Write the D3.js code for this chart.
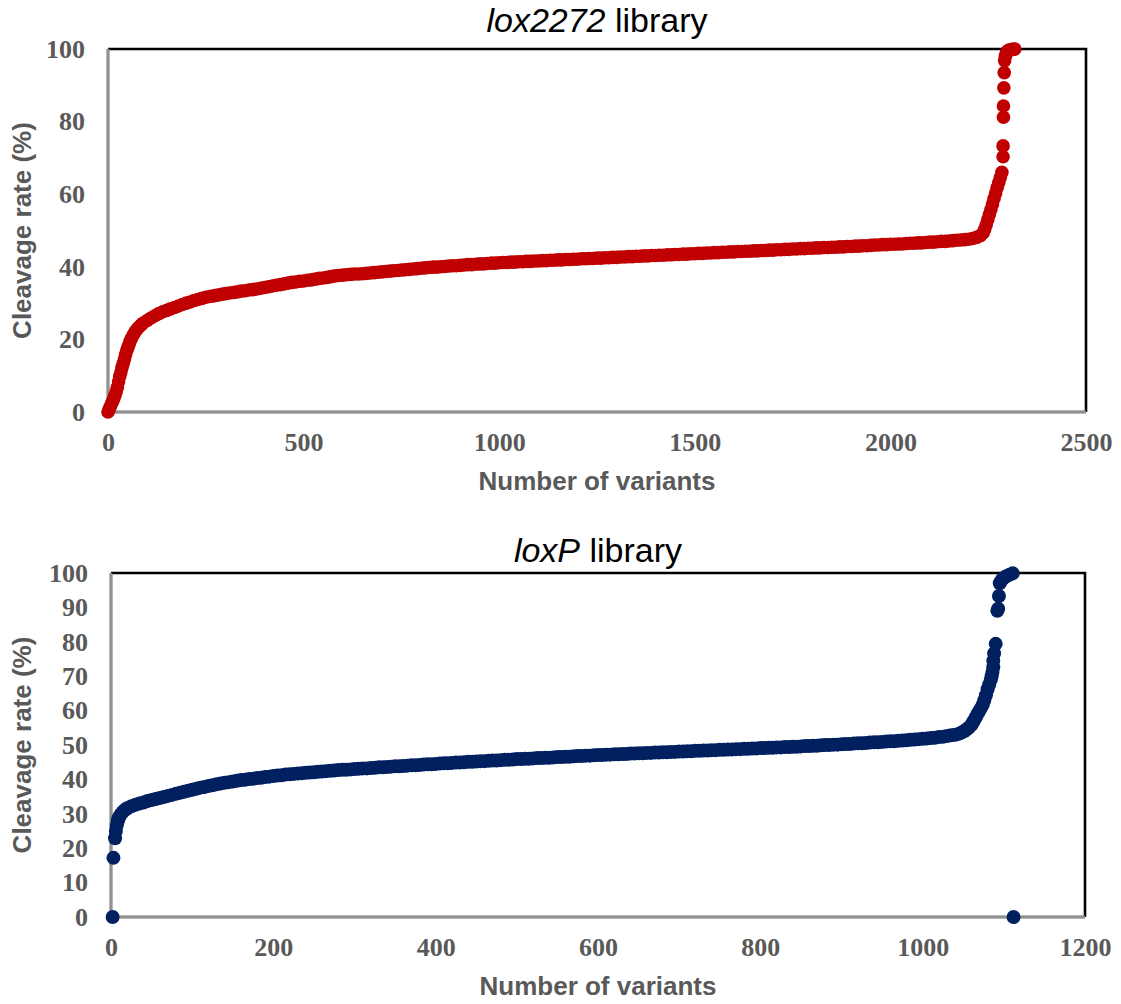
<!DOCTYPE html>
<html>
<head>
<meta charset="utf-8">
<script src="https://cdn.jsdelivr.net/npm/d3@7"></script>
<style>
  body { margin: 0; background: #fff; }
</style>
</head>
<body>
<svg class="chart"></svg>
<script>
const width = 1121,
  height = 1004;

// [variant rank, cleavage rate %]
const lox2272Points = [
  [0,0],[3,0.8],[6,1.5],[9,2.3],[12,2.9],[15,3.8],[18,4.6],[21,5.6],[24,6.8],[27,8.3],
  [30,9.8],[33,11.0],[36,12.3],[39,13.4],[42,14.6],[45,15.8],[48,16.9],[51,17.8],[54,18.7],[57,19.6],
  [60,20.3],[65,21.3],[70,22.2],[75,22.9],[80,23.5],[85,24.0],[90,24.5],
  [100,25.2],[110,25.9],[120,26.5],[130,27.1],[140,27.6],[150,28.0],[160,28.4],[170,28.8],[180,29.2],[190,29.6],
  [200,30.0],[210,30.3],[220,30.7],[230,31.0],[240,31.3],[250,31.6],[260,31.8],[270,32.0],[280,32.2],[290,32.4],
  [300,32.6],[310,32.8],[320,32.9],[330,33.1],[340,33.3],[350,33.4],[360,33.6],[370,33.7],[380,33.9],[390,34.1],
  [400,34.3],[410,34.5],[420,34.7],[430,34.9],[440,35.1],[450,35.3],[460,35.5],[470,35.7],[480,35.8],[490,36.0],
  [500,36.1],[510,36.3],[520,36.4],[530,36.6],[540,36.8],[550,36.9],[560,37.1],[570,37.3],[580,37.5],[590,37.6],
  [600,37.7],[610,37.8],[620,37.9],[630,38.0],[640,38.0],[650,38.1],[660,38.2],[670,38.3],[680,38.4],[690,38.5],
  [700,38.6],[710,38.7],[720,38.8],[730,38.9],[740,39.0],[750,39.1],[760,39.2],[770,39.3],[780,39.4],[790,39.5],
  [800,39.6],[810,39.7],[820,39.8],[830,39.9],[840,39.9],[850,40.0],[860,40.1],[870,40.2],[880,40.3],[890,40.3],
  [900,40.4],[910,40.5],[920,40.6],[930,40.6],[940,40.7],[950,40.8],[960,40.8],[970,40.9],[980,41.0],[990,41.0],
  [1000,41.1],[1010,41.2],[1020,41.2],[1030,41.3],[1040,41.3],[1050,41.4],[1060,41.4],[1070,41.5],[1080,41.5],[1090,41.6],
  [1100,41.6],[1110,41.7],[1120,41.7],[1130,41.8],[1140,41.8],[1150,41.9],[1160,41.9],[1170,42.0],[1180,42.0],[1190,42.1],
  [1200,42.1],[1210,42.2],[1220,42.2],[1230,42.3],[1240,42.3],[1250,42.4],[1260,42.4],[1270,42.5],[1280,42.5],[1290,42.6],
  [1300,42.6],[1310,42.7],[1320,42.7],[1330,42.8],[1340,42.8],[1350,42.9],[1360,42.9],[1370,43.0],[1380,43.0],[1390,43.1],
  [1400,43.1],[1410,43.2],[1420,43.2],[1430,43.3],[1440,43.3],[1450,43.4],[1460,43.4],[1470,43.5],[1480,43.5],[1490,43.6],
  [1500,43.6],[1510,43.7],[1520,43.7],[1530,43.8],[1540,43.8],[1550,43.9],[1560,43.9],[1570,44.0],[1580,44.0],[1590,44.1],
  [1600,44.1],[1610,44.2],[1620,44.2],[1630,44.3],[1640,44.3],[1650,44.4],[1660,44.4],[1670,44.5],[1680,44.5],[1690,44.6],
  [1700,44.6],[1710,44.7],[1720,44.7],[1730,44.8],[1740,44.8],[1750,44.9],[1760,44.9],[1770,45.0],[1780,45.0],[1790,45.1],
  [1800,45.1],[1810,45.2],[1820,45.2],[1830,45.3],[1840,45.3],[1850,45.4],[1860,45.4],[1870,45.5],[1880,45.5],[1890,45.6],
  [1900,45.6],[1910,45.7],[1920,45.7],[1930,45.8],[1940,45.8],[1950,45.9],[1960,46.0],[1970,46.0],[1980,46.1],[1990,46.1],
  [2000,46.2],[2010,46.2],[2020,46.3],[2030,46.3],[2040,46.4],[2050,46.5],[2060,46.5],[2070,46.6],[2080,46.6],[2090,46.7],
  [2100,46.8],[2110,46.8],[2120,46.9],[2130,47.0],[2140,47.0],[2150,47.1],[2160,47.2],[2170,47.3],[2180,47.4],[2190,47.5],
  [2200,47.6],[2210,47.8],[2220,48.1],[2230,48.6],
  [2237,49.3],[2241,50.3],[2245,51.6],[2249,53.0],[2253,54.4],[2257,55.8],[2261,57.3],[2265,58.8],[2269,60.3],[2273,61.8],
  [2277,63.2],[2281,64.6],[2285,66.0],
  [2288,70.3],[2288,73.3],[2289,81.2],[2289,84.3],[2290,89.3],[2291,93.5],[2292,96.8],[2294,98.0],[2296,98.9],[2299,99.4],
  [2303,99.7],[2307,99.8],[2311,99.9],[2315,99.9],[2318,100]
];

const loxPPoints = [
  [2,0],[3,17.2],[5,22.9],[6,25.0],[7,26.5],[8,27.6],[9,28.4],[10,29.0],[12,29.8],[14,30.4],[16,30.9],[18,31.3],
  [20,31.6],[25,32.2],[30,32.6],[35,33.0],[40,33.3],[45,33.7],[50,34.0],[55,34.3],[60,34.6],[65,34.9],[70,35.2],[75,35.5],
  [80,35.8],[85,36.1],[90,36.4],[95,36.7],[100,37.0],[105,37.3],[110,37.6],[115,37.8],[120,38.1],[125,38.3],[130,38.6],
  [135,38.8],[140,39.0],[145,39.2],[150,39.4],[155,39.6],[160,39.8],[165,39.9],[170,40.1],[175,40.2],[180,40.4],[185,40.5],
  [190,40.7],[195,40.8],[200,41.0],[205,41.1],[210,41.2],[215,41.4],[220,41.5],[225,41.6],[230,41.7],[235,41.8],[240,41.9],
  [245,42.0],[250,42.1],[255,42.2],[260,42.3],[265,42.4],[270,42.5],[275,42.6],[280,42.7],[285,42.8],[290,42.8],[295,42.9],
  [300,43.0],[305,43.1],[310,43.2],[315,43.2],[320,43.3],[325,43.4],[330,43.5],[335,43.5],[340,43.6],[345,43.7],[350,43.8],
  [355,43.8],[360,43.9],[365,44.0],[370,44.1],[375,44.1],[380,44.2],[385,44.3],[390,44.4],[395,44.4],[400,44.5],[405,44.6],
  [410,44.7],[415,44.7],[420,44.8],[425,44.9],[430,44.9],[435,45.0],[440,45.1],[445,45.1],[450,45.2],[455,45.3],[460,45.3],
  [465,45.4],[470,45.5],[475,45.5],[480,45.6],[485,45.7],[490,45.7],[495,45.8],[500,45.9],[505,45.9],[510,46.0],[515,46.0],
  [520,46.1],[525,46.2],[530,46.2],[535,46.3],[540,46.3],[545,46.4],[550,46.5],[555,46.5],[560,46.6],[565,46.6],[570,46.7],
  [575,46.8],[580,46.8],[585,46.9],[590,46.9],[595,47.0],[600,47.1],[605,47.1],[610,47.2],[615,47.2],[620,47.3],[625,47.3],
  [630,47.4],[635,47.4],[640,47.5],[645,47.5],[650,47.6],[655,47.6],[660,47.7],[665,47.7],[670,47.8],[675,47.8],[680,47.9],
  [685,47.9],[690,48.0],[695,48.0],[700,48.1],[705,48.1],[710,48.2],[715,48.2],[720,48.3],[725,48.3],[730,48.4],[735,48.4],
  [740,48.5],[745,48.5],[750,48.6],[755,48.6],[760,48.7],[765,48.7],[770,48.8],[775,48.8],[780,48.9],[785,48.9],[790,49.0],
  [795,49.0],[800,49.1],[805,49.1],[810,49.2],[815,49.2],[820,49.3],[825,49.3],[830,49.4],[835,49.4],[840,49.5],[845,49.5],
  [850,49.6],[855,49.7],[860,49.7],[865,49.8],[870,49.8],[875,49.9],[880,50.0],[885,50.0],[890,50.1],[895,50.1],[900,50.2],
  [905,50.3],[910,50.3],[915,50.4],[920,50.5],[925,50.5],[930,50.6],[935,50.7],[940,50.8],[945,50.8],[950,50.9],[955,51.0],
  [960,51.1],[965,51.1],[970,51.2],[975,51.3],[980,51.4],[985,51.5],[990,51.6],[995,51.7],[1000,51.8],[1005,51.9],[1010,52.0],
  [1015,52.1],[1020,52.3],[1025,52.4],[1030,52.6],[1035,52.8],[1040,53.0],[1045,53.3],[1048,53.6],[1051,54.0],[1054,54.5],
  [1057,55.1],[1060,55.8],[1062,56.6],[1064,57.4],[1066,58.3],[1068,59.2],[1070,60.0],[1072,60.8],[1074,61.7],[1076,63.0],
  [1078,64.5],[1080,66.2],[1082,67.6],[1084,69.0],[1085,70.0],[1086,71.2],[1087,72.6],[1087,74.5],[1088,76.6],[1090,79.4],
  [1092,89.0],[1093,89.6],[1094,93.3],[1095,97.0],[1097,97.8],[1099,98.4],[1102,98.9],[1105,99.3],[1108,99.6],[1111,99.9],
  [1112,0]
];

const lox2272YTicks = [0, 20, 40, 60, 80, 100];
const lox2272XTicks = [0, 500, 1000, 1500, 2000, 2500];
const loxPYTicks = [0, 10, 20, 30, 40, 50, 60, 70, 80, 90, 100];
const loxPXTicks = [0, 200, 400, 600, 800, 1000, 1200];

const sans = "'Liberation Sans', Arial, sans-serif";
const serif = "'Liberation Serif', 'Times New Roman', serif";
const labelGrey = "#595959";

let chart = d3.select(".chart")
  .attr("width", width)
  .attr("height", height);

function drawPanel(p) {
  let x = d3.scaleLinear()
    .domain([0, p.xMax])
    .range([p.left, p.right]);
  let y = d3.scaleLinear()
    .domain([0, 100])
    .range([p.bottom, p.top]);
  let g = chart.append("g");
  let midX = (p.left + p.right) / 2;

  // title, italic locus name
  let title = g.append("text")
    .attr("x", midX)
    .attr("y", p.titleY)
    .attr("text-anchor", "middle")
    .style("font-family", sans)
    .style("font-size", "34px")
    .attr("fill", "#000");
  title.append("tspan").style("font-style", "italic").text(p.name);
  title.append("tspan").text(" library");

  let yAxis = d3.axisLeft(y).tickValues(p.yTicks).tickFormat(d3.format("d")).tickSize(0).tickPadding(23);
  let xAxis = d3.axisBottom(x).tickValues(p.xTicks).tickFormat(d3.format("d")).tickSize(0).tickPadding(21);

  [g.append("g").attr("transform", `translate(${p.left},0)`).call(yAxis),
   g.append("g").attr("transform", `translate(0,${p.bottom})`).call(xAxis)]
    .forEach(a => {
      a.select(".domain").remove();
      a.selectAll("text")
        .attr("fill", labelGrey)
        .style("font-family", serif)
        .style("font-weight", "bold")
        .style("font-size", "26px");
    });

  // frame: black top/right, grey left/bottom
  g.append("path")
    .attr("d", `M${p.left},${p.top}H${p.right}V${p.bottom}`)
    .attr("fill", "none")
    .attr("stroke", "#000")
    .attr("stroke-width", 2.6);
  g.append("path")
    .attr("d", `M${p.left},${p.top}V${p.bottom}H${p.right}`)
    .attr("fill", "none")
    .attr("stroke", "#6f6f6f")
    .attr("stroke-width", 3);
  g.append("path")
    .attr("d", `M${p.left},${p.top}V${p.bottom}H${p.right}`)
    .attr("fill", "none")
    .attr("stroke", "#b4b4b4")
    .attr("stroke-width", 1);

  g.append("text")
    .attr("x", midX)
    .attr("y", p.bottom + 78)
    .attr("text-anchor", "middle")
    .attr("fill", labelGrey)
    .style("font-family", sans)
    .style("font-weight", "bold")
    .style("font-size", "26px")
    .text("Number of variants");

  g.append("text")
    .attr("transform", `translate(31,${(p.top + p.bottom) / 2}) rotate(-90)`)
    .attr("text-anchor", "middle")
    .attr("fill", labelGrey)
    .style("font-family", sans)
    .style("font-weight", "bold")
    .style("font-size", "26px")
    .text("Cleavage rate (%)");

  g.append("g")
    .selectAll("circle")
    .data(p.points)
    .enter()
    .append("circle")
    .attr("cx", d => x(d[0]))
    .attr("cy", d => y(d[1]))
    .attr("r", p.r)
    .attr("fill", p.color);
}

drawPanel({
  name: "lox2272", points: lox2272Points, xMax: 2500,
  xTicks: lox2272XTicks, yTicks: lox2272YTicks,
  left: 108, right: 1086, top: 49, bottom: 412,
  titleY: 32, color: "#c00000", r: 6.8
});

drawPanel({
  name: "loxP", points: loxPPoints, xMax: 1200,
  xTicks: loxPXTicks, yTicks: loxPYTicks,
  left: 111, right: 1085, top: 573, bottom: 917,
  titleY: 562, color: "#002060", r: 7
});
</script>
</body>
</html>
